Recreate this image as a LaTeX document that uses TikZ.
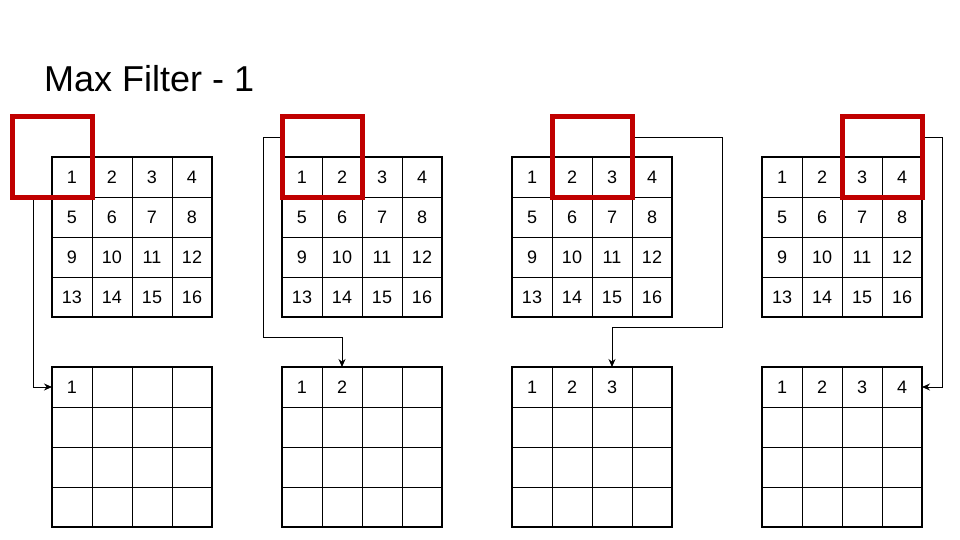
\documentclass[tikz,border=0pt]{standalone}
\usepackage{fontspec}
\setmainfont{Liberation Sans}
\usetikzlibrary{arrows.meta}
\definecolor{winred}{RGB}{192,0,0}
\begin{document}
\begin{tikzpicture}[x=1pt,y=-1pt,
 cell/.style={draw=black, line width=0.9pt, minimum size=40pt, inner sep=0pt, outer sep=0pt, font=\fontsize{18}{18}\selectfont},
 frame/.style={draw=black, line width=1.8pt},
 win/.style={draw=winred, line width=5pt, minimum size=80pt, inner sep=0pt, outer sep=0pt},
 conn/.style={draw=black, line width=0.9pt},
 arr/.style={-{Stealth[length=8pt,width=7pt]}}
]
\useasboundingbox (0,0) rectangle (960,540);
\node[anchor=base west, font=\fontsize{36}{36}\selectfont, inner sep=0pt] (title) at (44,92) {Max Filter - 1};
\foreach \g/\X in {1/52,2/282,3/512,4/762} {
  \foreach \r in {1,...,4} {
    \foreach \c in {1,...,4} {
      \pgfmathtruncatemacro\n{(\r-1)*4+\c}
      \ifnum\r=1 \ifnum\c>\g \def\lbl{}\else\edef\lbl{\c}\fi \else \def\lbl{}\fi
      \node[cell] (t\g-\r-\c) at (\X+40*\c-20, 157+40*\r-20) {\n};
      \node[cell] (b\g-\r-\c) at (\X+40*\c-20, 367+40*\r-20) {\lbl};
    }
  }
  \draw[frame] (t\g-1-1.north west) rectangle (t\g-4-4.south east);
  \draw[frame] (b\g-1-1.north west) rectangle (b\g-4-4.south east);
}
% windows (positions only, drawn later)
\path (52,157) node[win, draw=none] (w1) {};
\path (322,157) node[win, draw=none] (w2) {};
\path (592,157) node[win, draw=none] (w3) {};
\path (882,157) node[win, draw=none] (w4) {};
% connectors
\draw[conn,arr] ([xshift=21pt]w1.south west) |- (b1-1-1.west);
\draw[conn,arr] ([yshift=20pt]w2.west) -- ++(-19,0) -- ++(0,200) -| (b2-1-2.north);
\draw[conn,arr] ([yshift=20pt]w3.east) -- ++(90,0) -- ++(0,190) -| (b3-1-3.north);
\draw[conn,arr] ([yshift=20pt]w4.east) -- ++(20,0) |- (b4-1-4.east);
% red windows on top
\foreach \w in {w1,w2,w3,w4} {
  \draw[draw=winred, line width=5pt] (\w.north west) rectangle (\w.south east);
}
\end{tikzpicture}
\end{document}
